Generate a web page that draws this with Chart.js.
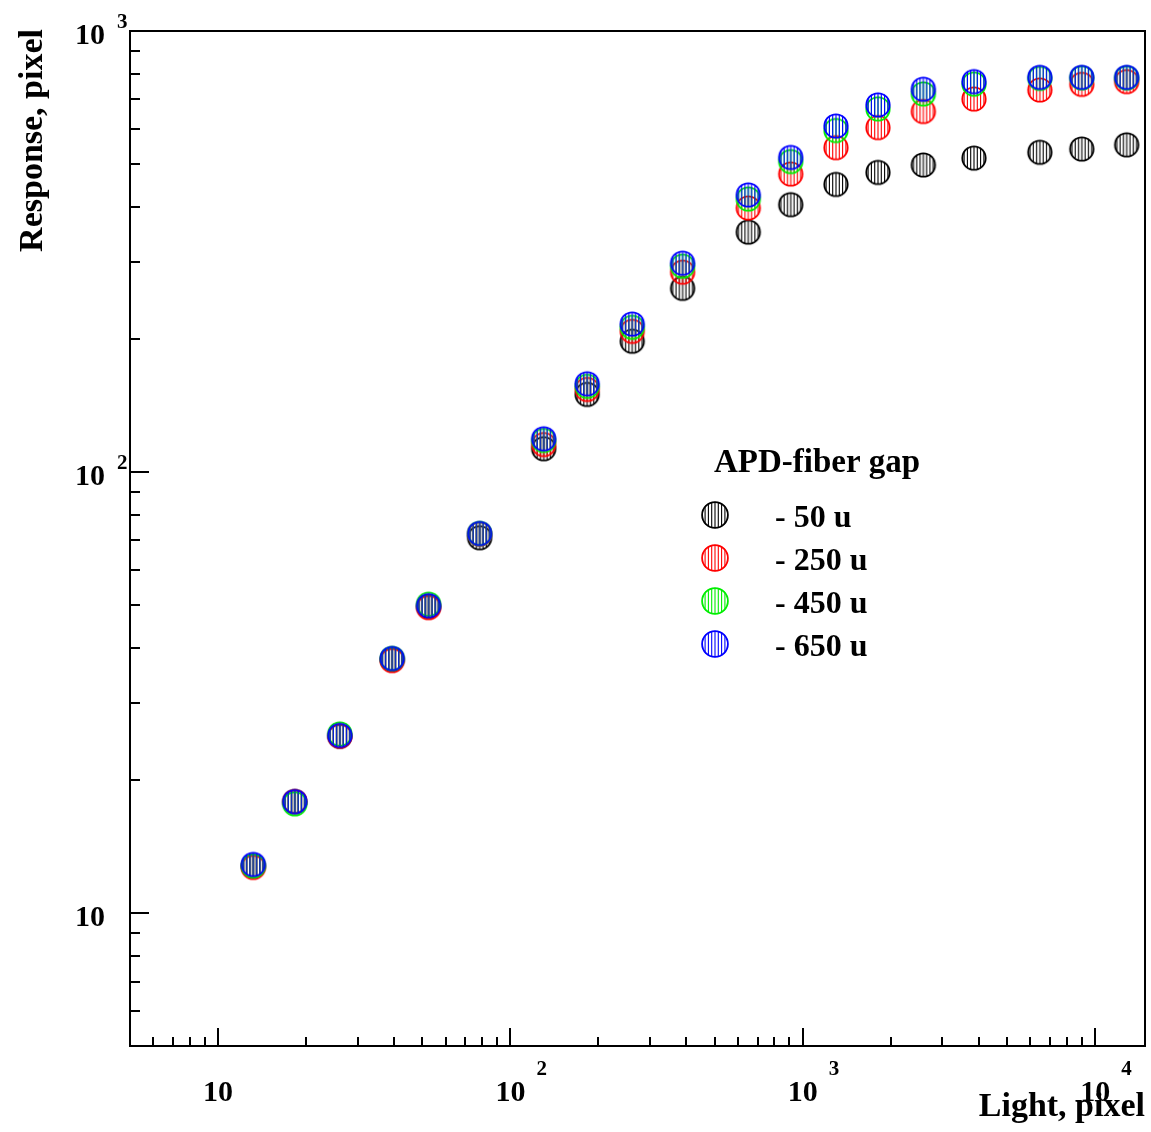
<!DOCTYPE html>
<html>
<head>
<meta charset="utf-8">
<script src="https://cdn.jsdelivr.net/npm/chart.js@4/dist/chart.umd.min.js"></script>
<style>
  html, body { margin: 0; padding: 0; background: #fff; }
  canvas { display: block; }
</style>
</head>
<body>
<canvas id="chart" width="1151" height="1132"></canvas>
<script>
  'use strict';

  // light (x) values, shared by all series
  const lightValues = [13.2, 18.3, 26.1, 39.4, 52.5, 78.5, 130, 183, 261, 388, 651, 909, 1298, 1807, 2584, 3848, 6465, 8995, 12808];

  // response for each APD-fiber gap
  const gap50 = [12.8, 17.9, 25.2, 37.6, 49.6, 71.0, 113, 150, 198, 261, 350, 404, 449, 478, 497, 515, 531, 540, 552];
  const gap250 = [12.7, 17.9, 25.2, 37.4, 49.3, 72.4, 115.5, 154, 208.5, 284, 397, 474, 544, 604, 657, 701, 735, 757, 768];
  const gap450 = [12.8, 17.7, 25.5, 37.8, 50.2, 72.6, 118, 156.5, 213, 293, 416, 506, 595, 666, 720, 758, 781, 783, 783];
  const gap650 = [12.9, 17.9, 25.3, 37.8, 49.8, 72.6, 119, 158.6, 216.6, 297.6, 425, 517, 609, 680, 738, 768, 785, 785, 785];

  const seriesNames = ['- 50 u', '- 250 u', '- 450 u', '- 650 u'];
  const seriesColors = ['#000000', '#ff0000', '#00ee00', '#0000ff'];

  // axis decades and their labels (base, exponent)
  const xMajor = [10, 100, 1000, 10000];
  const xLabels = [['10', ''], ['10', '2'], ['10', '3'], ['10', '4']];
  const yMajor = [10, 100, 1000];
  const yLabels = [['10', ''], ['10', '2'], ['10', '3']];

  const FONT = "'Liberation Serif', 'Times New Roman', serif";

  function hatchedCircle(color, r) {
    const size = Math.ceil(r * 2 + 3);
    const c = document.createElement('canvas');
    c.width = size;
    c.height = size;
    const g = c.getContext('2d');
    const cx = size / 2, cy = size / 2;
    g.save();
    g.beginPath();
    g.arc(cx, cy, r, 0, Math.PI * 2);
    g.clip();
    g.strokeStyle = color;
    g.lineWidth = 1.1;
    for (let k = -3; k <= 3; k++) {
      const x = cx + k * 3.3;
      g.beginPath();
      g.moveTo(x, cy - r);
      g.lineTo(x, cy + r);
      g.stroke();
    }
    g.restore();
    g.strokeStyle = color;
    g.lineWidth = 1.8;
    g.beginPath();
    g.arc(cx, cy, r - 0.6, 0, Math.PI * 2);
    g.stroke();
    return c;
  }

  function minorTicks(min, max) {
    const out = [];
    for (let d = Math.pow(10, Math.floor(Math.log10(min))); d < max; d *= 10) {
      for (let m = 2; m <= 9; m++) {
        const v = m * d;
        if (v > min && v < max) out.push(v);
      }
    }
    return out;
  }

  const allSeries = [gap50, gap250, gap450, gap650];
  const datasets = allSeries.map(function(vals, i) {
    return {
      label: seriesNames[i],
      data: lightValues.map(function(x, j) { return { x: x, y: vals[j] }; }),
      pointStyle: hatchedCircle(seriesColors[i], 12.3),
      pointRadius: 12,
      showLine: false,
      order: 4 - i
    };
  });

  const frame = {
    id: 'frame',
    afterDraw(chart) {
      const ctx = chart.ctx;
      const a = chart.chartArea;
      const xs = chart.scales.x, ys = chart.scales.y;
      ctx.save();
      ctx.strokeStyle = '#000';
      ctx.lineWidth = 2;
      ctx.strokeRect(a.left, a.top, a.right - a.left, a.bottom - a.top);

      // inward ticks
      ctx.lineWidth = 2;
      ctx.beginPath();
      xMajor.forEach(function(v) {
        const px = Math.round(xs.getPixelForValue(v));
        ctx.moveTo(px, a.bottom); ctx.lineTo(px, a.bottom - 18);
      });
      minorTicks(xs.min, xs.max).forEach(function(v) {
        const px = Math.round(xs.getPixelForValue(v));
        ctx.moveTo(px, a.bottom); ctx.lineTo(px, a.bottom - 9);
      });
      yMajor.forEach(function(v) {
        const py = Math.round(ys.getPixelForValue(v));
        ctx.moveTo(a.left, py); ctx.lineTo(a.left + 19, py);
      });
      minorTicks(ys.min, ys.max).forEach(function(v) {
        const py = Math.round(ys.getPixelForValue(v));
        ctx.moveTo(a.left, py); ctx.lineTo(a.left + 10, py);
      });
      ctx.stroke();

      // tick labels
      ctx.fillStyle = '#000';
      ctx.textBaseline = 'alphabetic';
      xMajor.forEach(function(v, i) {
        const px = xs.getPixelForValue(v);
        ctx.font = 'bold 30px ' + FONT;
        ctx.textAlign = 'center';
        ctx.fillText(xLabels[i][0], px, 1101);
        if (xLabels[i][1]) {
          ctx.font = 'bold 21px ' + FONT;
          ctx.textAlign = 'left';
          ctx.fillText(xLabels[i][1], px + 26, 1075);
        }
      });
      yMajor.forEach(function(v, i) {
        const py = ys.getPixelForValue(v);
        ctx.font = 'bold 30px ' + FONT;
        ctx.textAlign = 'right';
        ctx.fillText(yLabels[i][0], 105, py + 13);
        if (yLabels[i][1]) {
          ctx.font = 'bold 21px ' + FONT;
          ctx.textAlign = 'left';
          ctx.fillText(yLabels[i][1], 117, py - 3);
        }
      });

      // axis titles
      ctx.font = 'bold 34px ' + FONT;
      ctx.textAlign = 'right';
      ctx.fillText('Light, pixel', a.right, 1116);
      ctx.save();
      ctx.translate(42, a.top - 2);
      ctx.rotate(-Math.PI / 2);
      ctx.fillText('Response, pixel', 0, 0);
      ctx.restore();

      // legend
      ctx.textAlign = 'left';
      ctx.font = 'bold 33px ' + FONT;
      ctx.fillText('APD-fiber gap', 714, 472);
      ctx.font = 'bold 32px ' + FONT;
      seriesNames.forEach(function(name, i) {
        const cy = 515 + i * 43;
        const img = hatchedCircle(seriesColors[i], 13.5);
        ctx.drawImage(img, 715 - img.width / 2, cy - img.height / 2);
        ctx.fillText(name, 775, cy + 12);
      });
      ctx.restore();
    }
  };

  function noSpace(scale) {
    if (scale.isHorizontal()) scale.height = 0; else scale.width = 0;
  }

  new Chart(document.getElementById('chart'), {
    type: 'scatter',
    data: { datasets: datasets },
    options: {
      responsive: false,
      animation: false,
      layout: { autoPadding: false, padding: { left: 130, top: 31, right: 6, bottom: 86 } },
      plugins: { legend: { display: false }, tooltip: { enabled: false } },
      scales: {
        x: {
          type: 'logarithmic',
          min: 5,
          max: 14800,
          grid: { display: false, drawTicks: false },
          border: { display: false },
          ticks: { display: false },
          afterFit: noSpace
        },
        y: {
          type: 'logarithmic',
          min: 5,
          max: 1000,
          grid: { display: false, drawTicks: false },
          border: { display: false },
          ticks: { display: false },
          afterFit: noSpace
        }
      }
    },
    plugins: [frame]
  });
</script>
</body>
</html>
